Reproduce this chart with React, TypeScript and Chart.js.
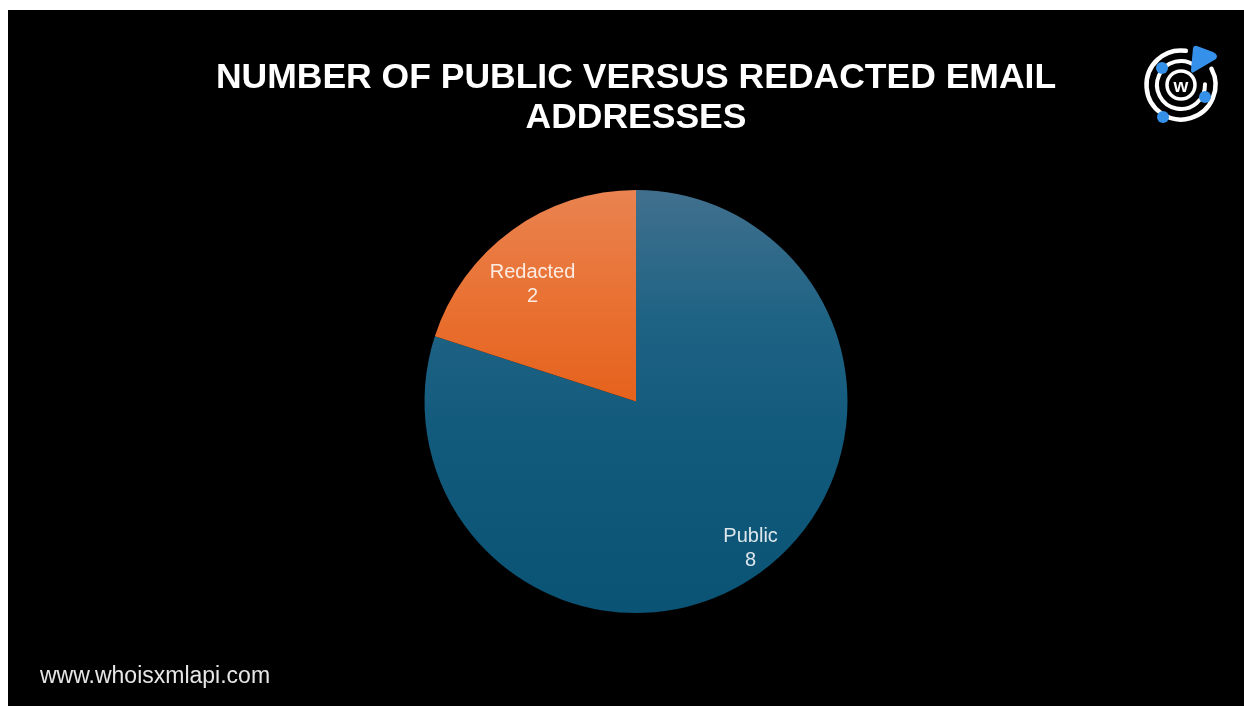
import React, { useEffect, useRef } from "react";
import { Chart, registerables } from "chart.js";

Chart.register(...registerables);

// ---- data ----
const titleLines = ["NUMBER OF PUBLIC VERSUS REDACTED EMAIL", "ADDRESSES"];
const categories = ["Public", "Redacted"];
const values = [8, 2];
const footerText = "www.whoisxmlapi.com";

// ---- styles ----
const FONT = '"Liberation Sans", Arial, Helvetica, sans-serif';
const sliceGradients: [number, string][][] = [
  [
    [0, "#41708e"],
    [0.3, "#1f6384"],
    [0.55, "#135b7d"],
    [1, "#0b5374"],
  ],
  [
    [0, "#e98350"],
    [0.25, "#e97234"],
    [0.5, "#e5621c"],
    [1, "#e25a12"],
  ],
];
const fallbackColors = ["#135b7d", "#e86a25"];
const labelRadius = [0.88, 0.74];
const labelAngleShift = [-2, -5.4];

const sliceLabelPlugin = {
  id: "sliceLabels",
  afterDatasetsDraw(chart: any) {
    const meta = chart.getDatasetMeta(0);
    const ctx = chart.ctx as CanvasRenderingContext2D;
    meta.data.forEach((arc: any, i: number) => {
      const p = arc.getProps(["x", "y", "startAngle", "endAngle", "outerRadius"], true);
      const mid = (p.startAngle + p.endAngle) / 2 + (labelAngleShift[i] * Math.PI) / 180;
      const r = p.outerRadius * labelRadius[i];
      const cx = p.x + Math.cos(mid) * r;
      const cy = p.y + Math.sin(mid) * r;
      ctx.save();
      ctx.font = `20px ${FONT}`;
      ctx.fillStyle = "rgba(255,255,255,0.86)";
      ctx.textAlign = "center";
      ctx.textBaseline = "middle";
      ctx.fillText(String(chart.data.labels[i]), cx, cy - 12);
      ctx.fillText(String(chart.data.datasets[0].data[i]), cx, cy + 12);
      ctx.restore();
    });
  },
};

function arcPath(cx: number, cy: number, r: number, a0: number, a1: number) {
  const rad = (d: number) => (d * Math.PI) / 180;
  const x0 = cx + r * Math.cos(rad(a0));
  const y0 = cy + r * Math.sin(rad(a0));
  const x1 = cx + r * Math.cos(rad(a1));
  const y1 = cy + r * Math.sin(rad(a1));
  const large = a1 - a0 > 180 ? 1 : 0;
  return `M ${x0} ${y0} A ${r} ${r} 0 ${large} 1 ${x1} ${y1}`;
}

function Logo() {
  const blue = "#3590ea";
  return (
    <svg
      width={90}
      height={90}
      viewBox="0 0 90 90"
      style={{ position: "absolute", left: 1128, top: 29 }}
    >
      <path d={arcPath(45, 46, 34.5, -28, 278)} stroke="#fff" strokeWidth={4.5} fill="none" strokeLinecap="round" />
      <path d={arcPath(45, 46, 24, -2, 308)} stroke="#fff" strokeWidth={4} fill="none" strokeLinecap="round" />
      <circle cx={45} cy={46} r={14} stroke="#fff" strokeWidth={3.5} fill="none" />
      <text
        x={45}
        y={53}
        textAnchor="middle"
        fill="#fff"
        fontFamily={FONT}
        fontWeight="bold"
        fontSize={19}
      >
        w
      </text>
      <circle cx={26} cy={29} r={6} fill={blue} />
      <circle cx={69} cy={58} r={6} fill={blue} />
      <circle cx={27} cy={78} r={6} fill={blue} />
      <path
        d="M 57 9 Q 58 6 61 7 L 77 13 Q 83 16 80 20 L 58 33 Q 55 35 55 31 Z"
        fill={blue}
      />
    </svg>
  );
}

export default function App() {
  const canvasRef = useRef<HTMLCanvasElement | null>(null);

  useEffect(() => {
    if (!canvasRef.current) return;
    const chart = new Chart(canvasRef.current, {
      type: "pie",
      data: {
        labels: categories,
        datasets: [
          {
            data: values,
            backgroundColor: (c: any) => {
              const ch = c.chart;
              const area = ch.chartArea;
              if (!area) return fallbackColors[c.dataIndex];
              const g = ch.ctx.createLinearGradient(0, area.top, 0, area.bottom);
              sliceGradients[c.dataIndex].forEach(([o, col]) => g.addColorStop(o, col));
              return g;
            },
            borderWidth: 0,
            hoverBorderWidth: 0,
            hoverOffset: 0,
          },
        ],
      },
      options: {
        animation: false,
        responsive: false,
        maintainAspectRatio: false,
        devicePixelRatio: 1,
        layout: { padding: { left: 20, bottom: 93 } },
        plugins: {
          legend: { display: false },
          tooltip: { enabled: false },
          title: {
            display: true,
            text: titleLines,
            color: "#ffffff",
            font: { family: FONT, size: 35.5, weight: "bold", lineHeight: 40 / 35.5 },
            padding: { top: 48, bottom: 52 },
          },
        },
      },
      plugins: [sliceLabelPlugin],
    });
    return () => chart.destroy();
  }, []);

  return (
    <div
      style={{
        position: "fixed",
        left: 8,
        top: 10,
        width: 1236,
        height: 696,
        background: "#000",
        overflow: "hidden",
      }}
    >
      <canvas ref={canvasRef} width={1236} height={696} style={{ display: "block" }} />
      <Logo />
      <div
        style={{
          position: "absolute",
          left: 32,
          top: 654,
          fontFamily: FONT,
          fontSize: 23,
          lineHeight: "23px",
          color: "#e6e6e6",
          whiteSpace: "nowrap",
        }}
      >
        {footerText}
      </div>
    </div>
  );
}
